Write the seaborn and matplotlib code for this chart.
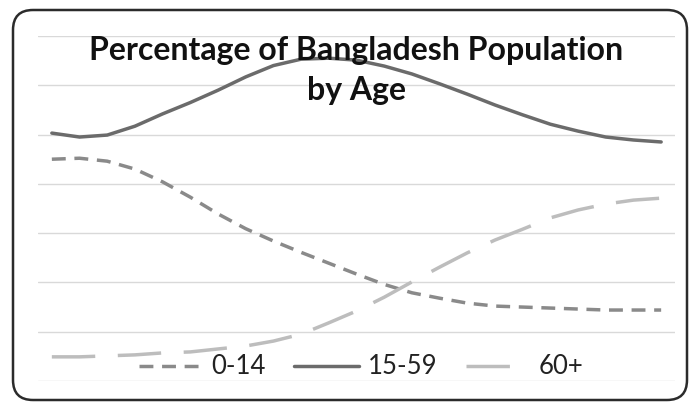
import numpy as np
import pandas as pd
import seaborn as sns
import matplotlib
matplotlib.use("Agg")
import matplotlib.pyplot as plt
from matplotlib.patches import FancyBboxPatch
from matplotlib.lines import Line2D

# Share of population by age group (%)
years = list(range(1950, 2061, 5))
age_0_14 = [45.0, 45.2, 44.6, 43.0, 40.4, 37.3, 33.9, 30.9, 28.4, 26.1, 23.9, 21.7,
            19.6, 17.9, 16.8, 15.8, 15.2, 15.0, 14.8, 14.6, 14.4, 14.4, 14.4]
age_15_59 = [50.3, 49.5, 49.9, 51.7, 54.2, 56.5, 59.0, 61.7, 64.0, 65.3, 65.5, 65.1,
             63.9, 62.3, 60.3, 58.2, 56.0, 54.0, 52.1, 50.7, 49.5, 48.9, 48.5]
age_60_plus = [4.9, 4.9, 5.1, 5.3, 5.7, 5.9, 6.5, 7.1, 8.1, 9.5, 11.8, 14.2,
               17.0, 20.1, 23.1, 26.0, 28.6, 30.8, 33.1, 34.7, 35.9, 36.7, 37.1]
groups = ["0-14", "15-59", "60+"]
title_lines = ["Percentage of Bangladesh Population", "by Age"]

df = pd.DataFrame({
    "idx": list(range(len(years))) * 3,
    "year": years * 3,
    "share": age_0_14 + age_15_59 + age_60_plus,
    "group": [g for g in groups for _ in years],
})

sns.set_theme(style="white")
plt.rcParams["font.family"] = ["Lato", "DejaVu Sans"]

colors = {"0-14": "#8a8a8a", "15-59": "#6b6b6b", "60+": "#bdbdbd"}
dashes = {"0-14": (4.0, 2.5), "15-59": "", "60+": (12.5, 6.5)}
lw = 2.5

fig = plt.figure(figsize=(6.9, 4.03), dpi=100)
ax = fig.add_axes([38 / 690, 22 / 403, (675 - 38) / 690, (381 - 36) / 403])

sns.lineplot(data=df, x="idx", y="share", hue="group", style="group",
             palette=colors, dashes=dashes, linewidth=lw, legend=False, ax=ax)

ax.set_xlim(-0.5, len(years) - 0.5)
ax.set_ylim(0, 70)
ax.set_yticks(np.arange(0, 71, 10))
ax.yaxis.grid(True, color="#d9d9d9", linewidth=1.0)
ax.set_axisbelow(True)
ax.tick_params(left=False, bottom=False, labelleft=False, labelbottom=False)
ax.set_xlabel("")
ax.set_ylabel("")
for s in ax.spines.values():
    s.set_visible(False)
ax.patch.set_alpha(0)

# Title overlaid on the plot area
cx = (38 + 675) / 2 / 690
fig.text(cx, (403 - 60) / 403, title_lines[0], ha="center", va="baseline",
         fontsize=23, fontweight="bold", color="#111111")
fig.text(cx, (403 - 100) / 403, title_lines[1], ha="center", va="baseline",
         fontsize=23, fontweight="bold", color="#111111")

# Legend
handles = [Line2D([0], [0], color=colors[g], linewidth=lw,
                  linestyle=(0, dashes[g]) if dashes[g] else "-") for g in groups]
fig.legend(handles, groups, loc="center", bbox_to_anchor=(361 / 690, 36 / 403),
           ncol=3, frameon=False, fontsize=18.5, handlelength=2.5,
           handletextpad=0.35, columnspacing=1.1, labelcolor="#222222")

# Rounded outer border
border = FancyBboxPatch((0.13, 0.03), 6.74, 3.9,
                        boxstyle="round,pad=0,rounding_size=0.2",
                        transform=fig.dpi_scale_trans, facecolor="none",
                        edgecolor="#2b2b2b", linewidth=1.8)
fig.patches.append(border)

fig.savefig("out.png", dpi=100, facecolor="white")
